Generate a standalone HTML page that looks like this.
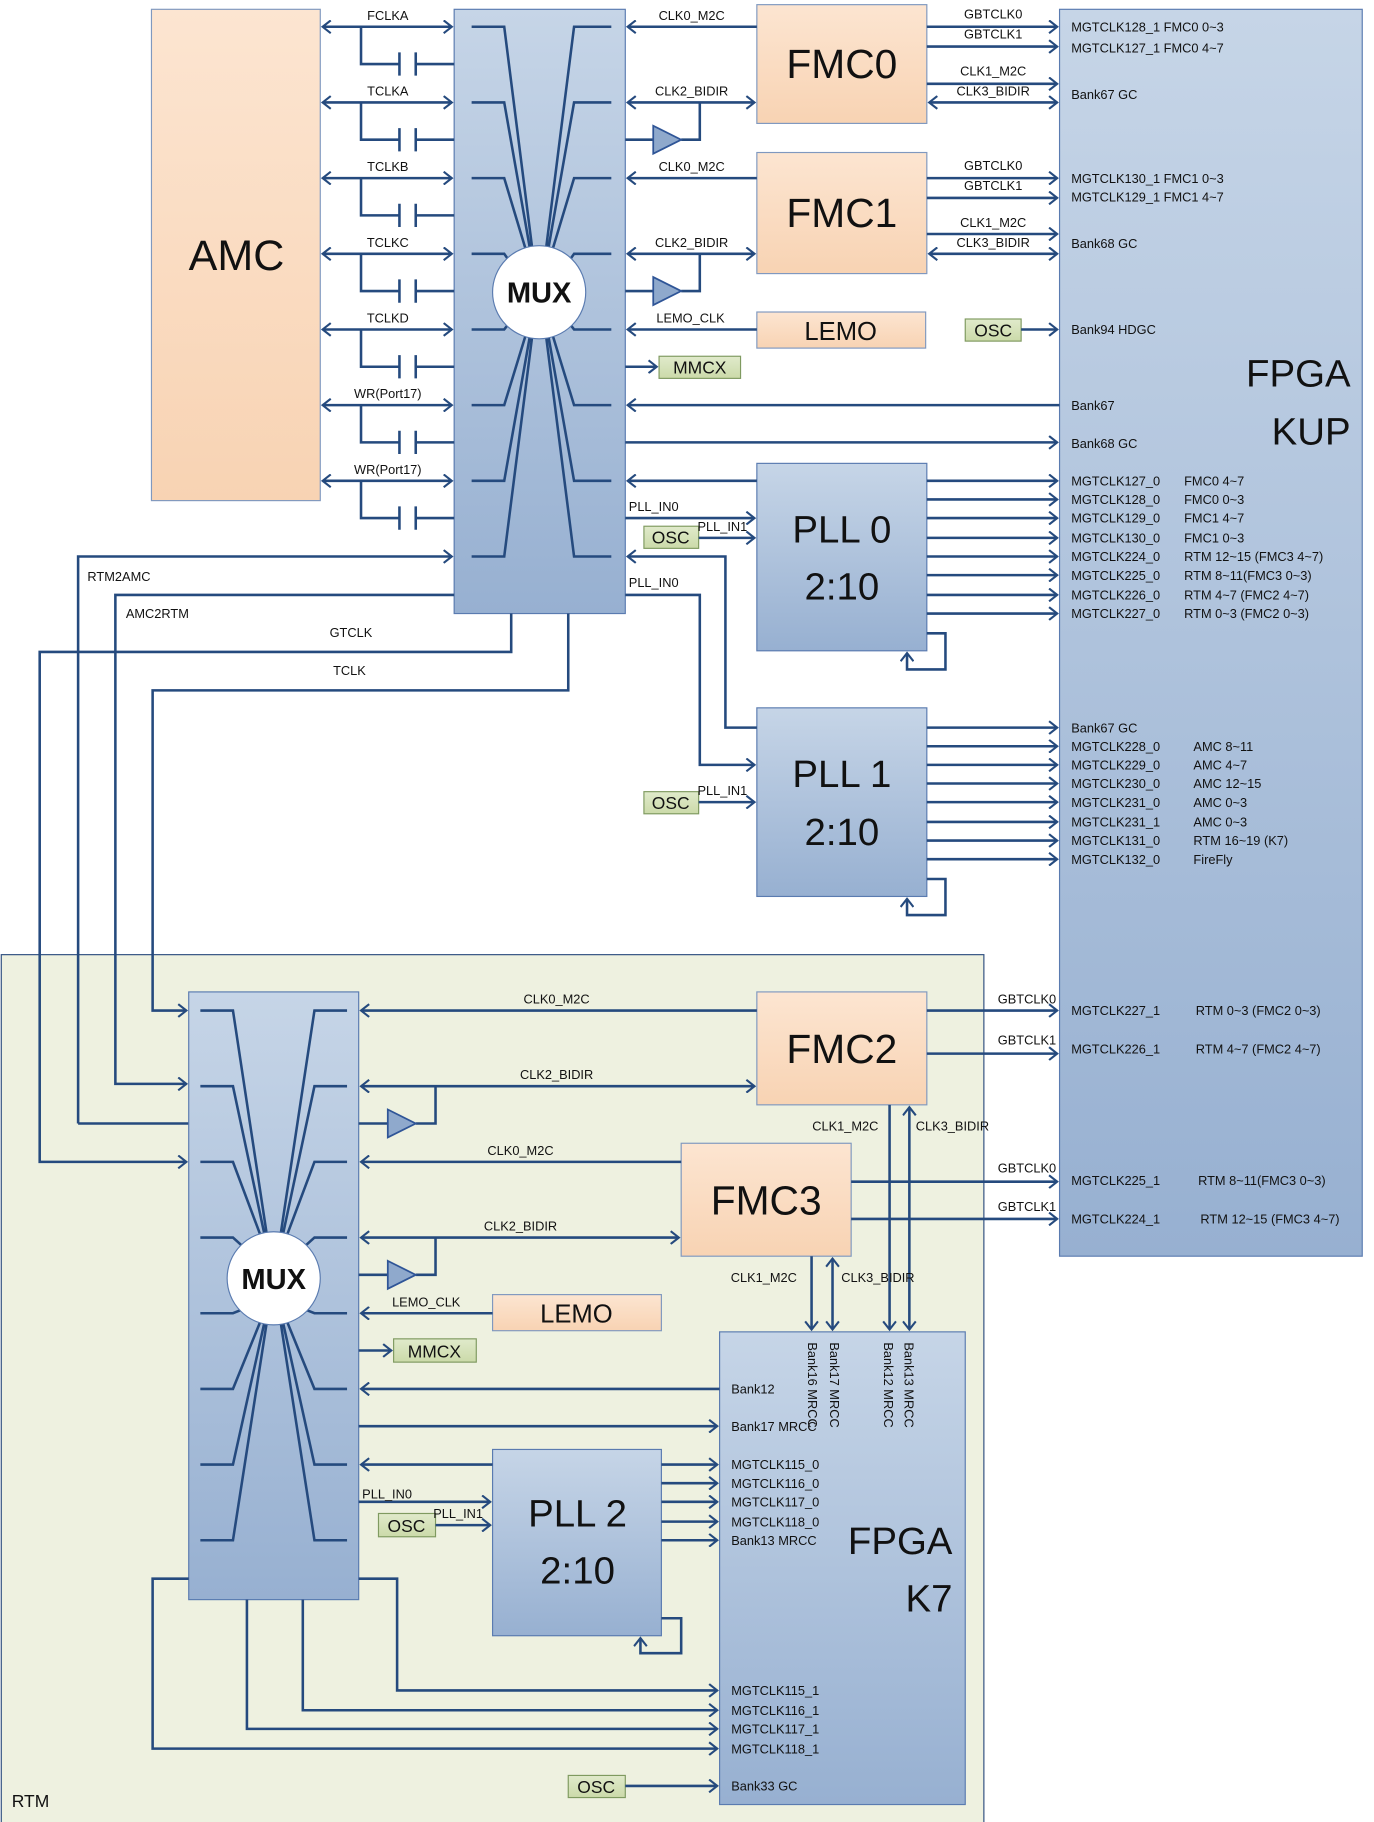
<!DOCTYPE html>
<html><head><meta charset="utf-8"><style>
html,body{margin:0;padding:0;background:#fff}
svg{display:block}
text{font-family:"Liberation Sans",sans-serif;fill:#111}
.s{font-size:11px}
.w{stroke:#254a7e;stroke-width:2.2;fill:none}
</style></head><body>
<svg width="1374" height="1822" viewBox="0 0 1180 1565" xmlns="http://www.w3.org/2000/svg">
<defs>
<marker id="a" markerWidth="10" markerHeight="12" refX="8" refY="6" orient="auto" markerUnits="userSpaceOnUse"><path d="M1,0.5 L8,6 L1,11.5" fill="none" stroke="#254a7e" stroke-width="1.8"/></marker>
<marker id="b" markerWidth="10" markerHeight="12" refX="8" refY="6" orient="auto-start-reverse" markerUnits="userSpaceOnUse"><path d="M1,0.5 L8,6 L1,11.5" fill="none" stroke="#254a7e" stroke-width="1.8"/></marker>
<linearGradient id="pe" x1="0" y1="0" x2="0" y2="1"><stop offset="0" stop-color="#fce5d1"/><stop offset="1" stop-color="#f8d3b3"/></linearGradient>
<linearGradient id="bl" x1="0" y1="0" x2="0" y2="1"><stop offset="0" stop-color="#c6d5e7"/><stop offset="1" stop-color="#97b0d1"/></linearGradient>
<linearGradient id="gr" x1="0" y1="0" x2="0" y2="1"><stop offset="0" stop-color="#e0eacb"/><stop offset="1" stop-color="#cbdaa9"/></linearGradient>
</defs>

<rect x="1" y="820" width="844" height="746" fill="#eef1e0" stroke="#2f4f80" stroke-width="1"/>
<text x="10" y="1552" style="font-size:15px">RTM</text>

<rect x="910" y="8" width="260" height="1071" fill="url(#bl)" stroke="#5a7bb0" stroke-width="1"/>
<text x="1160" y="332" text-anchor="end" style="font-size:33px">FPGA</text>
<text x="1160" y="382" text-anchor="end" style="font-size:33px">KUP</text>

<rect x="130" y="8" width="145" height="422" fill="url(#pe)" stroke="#7f98bf" stroke-width="1"/>
<text x="203" y="232" text-anchor="middle" style="font-size:37px">AMC</text>

<rect x="390" y="8" width="147" height="519" fill="url(#bl)" stroke="#5a7bb0" stroke-width="1"/>
<g class="w" stroke-width="2.5">
<path d="M405,23H433L457,213M405,88H433L455,213M405,153H433L452,216M405,218H433L440,228"/>
<path d="M405,283H433L440,274M405,348H433L452,286M405,413H433L455,289M405,478H433L457,289"/>
<path d="M525,23H493L469,213M525,88H493L471,213M525,153H493L474,216M525,218H493L486,228"/>
<path d="M525,283H493L486,274M525,348H493L474,286M525,413H493L471,289M525,478H493L469,289"/>
</g>
<circle cx="463" cy="251" r="40" fill="#fff" stroke="#5a7bb0"/>
<text x="463" y="260" text-anchor="middle" style="font-size:25px;font-weight:bold">MUX</text>

<g class="w">
<path d="M277,23H388" marker-start="url(#b)" marker-end="url(#a)"/>
<path d="M277,88H388" marker-start="url(#b)" marker-end="url(#a)"/>
<path d="M277,153H388" marker-start="url(#b)" marker-end="url(#a)"/>
<path d="M277,218H388" marker-start="url(#b)" marker-end="url(#a)"/>
<path d="M277,283H388" marker-start="url(#b)" marker-end="url(#a)"/>
<path d="M277,348H388" marker-start="url(#b)" marker-end="url(#a)"/>
<path d="M277,413H388" marker-start="url(#b)" marker-end="url(#a)"/>
<path d="M310,23V55H343M343,45V65M357,45V65M357,55H390"/>
<path d="M310,88V120H343M343,110V130M357,110V130M357,120H390"/>
<path d="M310,153V185H343M343,175V195M357,175V195M357,185H390"/>
<path d="M310,218V250H343M343,240V260M357,240V260M357,250H390"/>
<path d="M310,283V315H343M343,305V325M357,305V325M357,315H390"/>
<path d="M310,348V380H343M343,370V390M357,370V390M357,380H390"/>
<path d="M310,413V445H343M343,435V455M357,435V455M357,445H390"/>
</g>
<g class="s" text-anchor="middle">
<text x="333" y="17">FCLKA</text><text x="333" y="82">TCLKA</text><text x="333" y="147">TCLKB</text>
<text x="333" y="212">TCLKC</text><text x="333" y="277">TCLKD</text><text x="333" y="342">WR(Port17)</text><text x="333" y="407">WR(Port17)</text>
</g>

<g class="w">
<path d="M67,965V478H388" marker-end="url(#a)"/>
<path d="M390,511H99V931H160" marker-end="url(#a)"/>
<path d="M439,527V560H34V998H160" marker-end="url(#a)"/>
<path d="M488,527V593H131V868H160" marker-end="url(#a)"/>
<path d="M67,965H162"/>
</g>
<g class="s"><text x="75" y="499">RTM2AMC</text><text x="108" y="531">AMC2RTM</text>
<text x="283" y="547">GTCLK</text><text x="286" y="580">TCLK</text></g>

<rect x="650" y="4" width="146" height="102" fill="url(#pe)" stroke="#7f98bf"/>
<text x="723" y="67" text-anchor="middle" style="font-size:35px">FMC0</text>
<rect x="650" y="131" width="146" height="104" fill="url(#pe)" stroke="#7f98bf"/>
<text x="723" y="195" text-anchor="middle" style="font-size:35px">FMC1</text>
<rect x="650" y="268" width="145" height="31" fill="url(#pe)" stroke="#7f98bf"/>
<text x="722" y="292" text-anchor="middle" style="font-size:22px">LEMO</text>
<rect x="566" y="306" width="70" height="19" fill="url(#gr)" stroke="#7f9a60"/>
<text x="601" y="321" text-anchor="middle" style="font-size:15px">MMCX</text>
<rect x="829" y="274" width="48" height="19" fill="url(#gr)" stroke="#7f9a60"/>
<text x="853" y="289" text-anchor="middle" style="font-size:15px">OSC</text>

<g class="w">
<path d="M650,23H539" marker-end="url(#a)"/>
<path d="M539,88H648" marker-start="url(#b)" marker-end="url(#a)"/>
<path d="M601,88V120H585M537,120H561"/>
<path d="M650,153H539" marker-end="url(#a)"/>
<path d="M539,218H648" marker-start="url(#b)" marker-end="url(#a)"/>
<path d="M601,218V250H585M537,250H561"/>
<path d="M650,283H539" marker-end="url(#a)"/>
<path d="M537,315H564" marker-end="url(#a)"/>
<path d="M910,348H539" marker-end="url(#a)"/>
<path d="M537,380H908" marker-end="url(#a)"/>
<path d="M796,23H908" marker-end="url(#a)"/><path d="M796,40H908" marker-end="url(#a)"/>
<path d="M796,72H908" marker-end="url(#a)"/><path d="M798,88H908" marker-start="url(#b)" marker-end="url(#a)"/>
<path d="M796,153H908" marker-end="url(#a)"/><path d="M796,170H908" marker-end="url(#a)"/>
<path d="M796,201H908" marker-end="url(#a)"/><path d="M798,218H908" marker-start="url(#b)" marker-end="url(#a)"/>
<path d="M877,283H908" marker-end="url(#a)"/>
</g>
<path d="M561,108L585,120L561,132Z" fill="#8fa9cc" stroke="#2f5597" stroke-width="1.5"/>
<path d="M561,238L585,250L561,262Z" fill="#8fa9cc" stroke="#2f5597" stroke-width="1.5"/>
<g class="s" text-anchor="middle">
<text x="594" y="17">CLK0_M2C</text><text x="594" y="82">CLK2_BIDIR</text>
<text x="594" y="147">CLK0_M2C</text><text x="594" y="212">CLK2_BIDIR</text>
<text x="593" y="277">LEMO_CLK</text>
<text x="853" y="16">GBTCLK0</text><text x="853" y="33">GBTCLK1</text><text x="853" y="65">CLK1_M2C</text><text x="853" y="82">CLK3_BIDIR</text>
<text x="853" y="146">GBTCLK0</text><text x="853" y="163">GBTCLK1</text><text x="853" y="195">CLK1_M2C</text><text x="853" y="212">CLK3_BIDIR</text>
</g>
<g class="s">
<text x="920" y="27">MGTCLK128_1  FMC0 0~3</text><text x="920" y="45">MGTCLK127_1  FMC0 4~7</text><text x="920" y="85">Bank67 GC</text>
<text x="920" y="157">MGTCLK130_1  FMC1 0~3</text><text x="920" y="173">MGTCLK129_1  FMC1 4~7</text><text x="920" y="213">Bank68 GC</text>
<text x="920" y="287">Bank94 HDGC</text><text x="920" y="352">Bank67</text><text x="920" y="385">Bank68 GC</text>
</g>

<rect x="650" y="398" width="146" height="161" fill="url(#bl)" stroke="#5a7bb0"/>
<text x="723" y="466" text-anchor="middle" style="font-size:33px">PLL 0</text>
<text x="723" y="515" text-anchor="middle" style="font-size:33px">2:10</text>
<rect x="650" y="608" width="146" height="162" fill="url(#bl)" stroke="#5a7bb0"/>
<text x="723" y="676" text-anchor="middle" style="font-size:33px">PLL 1</text>
<text x="723" y="726" text-anchor="middle" style="font-size:33px">2:10</text>
<rect x="553" y="452" width="47" height="19" fill="url(#gr)" stroke="#7f9a60"/>
<text x="576" y="467" text-anchor="middle" style="font-size:15px">OSC</text>
<rect x="553" y="680" width="47" height="19" fill="url(#gr)" stroke="#7f9a60"/>
<text x="576" y="695" text-anchor="middle" style="font-size:15px">OSC</text>
<g class="w">
<path d="M650,413H539" marker-end="url(#a)"/>
<path d="M537,445H648" marker-end="url(#a)"/>
<path d="M600,462H648" marker-end="url(#a)"/>
<path d="M650,625H623V478H539" marker-end="url(#a)"/>
<path d="M537,511H601V657H648" marker-end="url(#a)"/>
<path d="M600,689H648" marker-end="url(#a)"/>
<path d="M796,544H812V575H779V561" marker-end="url(#a)"/>
<path d="M796,755H812V786H779V772" marker-end="url(#a)"/>
<path d="M796,413H908" marker-end="url(#a)"/><path d="M796,429H908" marker-end="url(#a)"/>
<path d="M796,445H908" marker-end="url(#a)"/><path d="M796,462H908" marker-end="url(#a)"/>
<path d="M796,478H908" marker-end="url(#a)"/><path d="M796,494H908" marker-end="url(#a)"/>
<path d="M796,511H908" marker-end="url(#a)"/><path d="M796,527H908" marker-end="url(#a)"/>
<path d="M796,625H908" marker-end="url(#a)"/><path d="M796,641H908" marker-end="url(#a)"/>
<path d="M796,657H908" marker-end="url(#a)"/><path d="M796,673H908" marker-end="url(#a)"/>
<path d="M796,689H908" marker-end="url(#a)"/><path d="M796,706H908" marker-end="url(#a)"/>
<path d="M796,722H908" marker-end="url(#a)"/><path d="M796,738H908" marker-end="url(#a)"/>
</g>
<g class="s">
<text x="540" y="439">PLL_IN0</text><text x="599" y="456">PLL_IN1</text>
<text x="540" y="504">PLL_IN0</text><text x="599" y="683">PLL_IN1</text>
<text x="920" y="417">MGTCLK127_0</text><text x="1017" y="417">FMC0 4~7</text>
<text x="920" y="433">MGTCLK128_0</text><text x="1017" y="433">FMC0 0~3</text>
<text x="920" y="449">MGTCLK129_0</text><text x="1017" y="449">FMC1 4~7</text>
<text x="920" y="466">MGTCLK130_0</text><text x="1017" y="466">FMC1 0~3</text>
<text x="920" y="482">MGTCLK224_0</text><text x="1017" y="482">RTM 12~15 (FMC3 4~7)</text>
<text x="920" y="498">MGTCLK225_0</text><text x="1017" y="498">RTM 8~11(FMC3 0~3)</text>
<text x="920" y="515">MGTCLK226_0</text><text x="1017" y="515">RTM 4~7 (FMC2 4~7)</text>
<text x="920" y="531">MGTCLK227_0</text><text x="1017" y="531">RTM 0~3 (FMC2 0~3)</text>
<text x="920" y="629">Bank67 GC</text>
<text x="920" y="645">MGTCLK228_0</text><text x="1025" y="645">AMC 8~11</text>
<text x="920" y="661">MGTCLK229_0</text><text x="1025" y="661">AMC 4~7</text>
<text x="920" y="677">MGTCLK230_0</text><text x="1025" y="677">AMC 12~15</text>
<text x="920" y="693">MGTCLK231_0</text><text x="1025" y="693">AMC 0~3</text>
<text x="920" y="710">MGTCLK231_1</text><text x="1025" y="710">AMC 0~3</text>
<text x="920" y="726">MGTCLK131_0</text><text x="1025" y="726">RTM 16~19 (K7)</text>
<text x="920" y="742">MGTCLK132_0</text><text x="1025" y="742">FireFly</text>
</g>

<rect x="162" y="852" width="146" height="522" fill="url(#bl)" stroke="#5a7bb0"/>
<g class="w" stroke-width="2.5">
<path d="M172,868H200L229,1060M172,933H200L227,1060M172,998H200L224,1062M172,1063H200L210,1072"/>
<path d="M172,1128H200L210,1124M172,1193H200L224,1134M172,1258H200L227,1136M172,1323H200L229,1136"/>
<path d="M298,868H270L241,1060M298,933H270L243,1060M298,998H270L246,1062M298,1063H270L260,1072"/>
<path d="M298,1128H270L260,1124M298,1193H270L246,1134M298,1258H270L243,1136M298,1323H270L241,1136"/>
</g>
<circle cx="235" cy="1098" r="40" fill="#fff" stroke="#5a7bb0"/>
<text x="235" y="1107" text-anchor="middle" style="font-size:25px;font-weight:bold">MUX</text>

<rect x="650" y="852" width="146" height="97" fill="url(#pe)" stroke="#7f98bf"/>
<text x="723" y="913" text-anchor="middle" style="font-size:35px">FMC2</text>
<rect x="585" y="982" width="146" height="97" fill="url(#pe)" stroke="#7f98bf"/>
<text x="658" y="1043" text-anchor="middle" style="font-size:35px">FMC3</text>
<rect x="423" y="1112" width="145" height="31" fill="url(#pe)" stroke="#7f98bf"/>
<text x="495" y="1136" text-anchor="middle" style="font-size:22px">LEMO</text>
<rect x="338" y="1150" width="71" height="20" fill="url(#gr)" stroke="#7f9a60"/>
<text x="373" y="1166" text-anchor="middle" style="font-size:15px">MMCX</text>

<rect x="618" y="1144" width="211" height="406" fill="url(#bl)" stroke="#5a7bb0"/>
<text x="818" y="1335" text-anchor="end" style="font-size:33px">FPGA</text>
<text x="818" y="1384" text-anchor="end" style="font-size:33px">K7</text>

<rect x="423" y="1245" width="145" height="160" fill="url(#bl)" stroke="#5a7bb0"/>
<text x="496" y="1311" text-anchor="middle" style="font-size:33px">PLL 2</text>
<text x="496" y="1360" text-anchor="middle" style="font-size:33px">2:10</text>
<rect x="325" y="1300" width="49" height="20" fill="url(#gr)" stroke="#7f9a60"/>
<text x="349" y="1316" text-anchor="middle" style="font-size:15px">OSC</text>
<rect x="488" y="1525" width="49" height="19" fill="url(#gr)" stroke="#7f9a60"/>
<text x="512" y="1540" text-anchor="middle" style="font-size:15px">OSC</text>

<g class="w">
<path d="M650,868H310" marker-end="url(#a)"/>
<path d="M310,933H648" marker-start="url(#b)" marker-end="url(#a)"/>
<path d="M374,933V965H357M308,965H333"/>
<path d="M585,998H310" marker-end="url(#a)"/>
<path d="M310,1063H583" marker-start="url(#b)" marker-end="url(#a)"/>
<path d="M374,1063V1095H357M308,1095H333"/>
<path d="M423,1128H310" marker-end="url(#a)"/>
<path d="M308,1160H336" marker-end="url(#a)"/>
<path d="M618,1193H310" marker-end="url(#a)"/>
<path d="M308,1225H616" marker-end="url(#a)"/>
<path d="M423,1258H310" marker-end="url(#a)"/>
<path d="M308,1290H421" marker-end="url(#a)"/>
<path d="M374,1310H421" marker-end="url(#a)"/>
<path d="M568,1390H585V1420H550V1407" marker-end="url(#a)"/>
<path d="M568,1258H616" marker-end="url(#a)"/><path d="M568,1274H616" marker-end="url(#a)"/>
<path d="M568,1290H616" marker-end="url(#a)"/><path d="M568,1307H616" marker-end="url(#a)"/>
<path d="M568,1323H616" marker-end="url(#a)"/>
<path d="M308,1356H341V1452H616" marker-end="url(#a)"/>
<path d="M260,1374V1469H616" marker-end="url(#a)"/>
<path d="M212,1374V1485H616" marker-end="url(#a)"/>
<path d="M162,1356H131V1502H616" marker-end="url(#a)"/>
<path d="M537,1534H616" marker-end="url(#a)"/>
<path d="M796,868H908" marker-end="url(#a)"/>
<path d="M796,905H908" marker-end="url(#a)"/>
<path d="M731,1015H908" marker-end="url(#a)"/>
<path d="M731,1047H908" marker-end="url(#a)"/>
<path d="M764,949V1142" marker-end="url(#a)"/>
<path d="M781,951V1142" marker-start="url(#b)" marker-end="url(#a)"/>
<path d="M697,1079V1142" marker-end="url(#a)"/>
<path d="M715,1081V1142" marker-start="url(#b)" marker-end="url(#a)"/>
</g>
<path d="M333,953L357,965L333,977Z" fill="#8fa9cc" stroke="#2f5597" stroke-width="1.5"/>
<path d="M333,1083L357,1095L333,1107Z" fill="#8fa9cc" stroke="#2f5597" stroke-width="1.5"/>

<g class="s" text-anchor="middle">
<text x="478" y="862">CLK0_M2C</text><text x="478" y="927">CLK2_BIDIR</text>
<text x="447" y="992">CLK0_M2C</text><text x="447" y="1057">CLK2_BIDIR</text>
<text x="366" y="1122">LEMO_CLK</text>
<text x="726" y="971">CLK1_M2C</text><text x="818" y="971">CLK3_BIDIR</text>
<text x="656" y="1101">CLK1_M2C</text><text x="754" y="1101">CLK3_BIDIR</text>
<text x="882" y="862">GBTCLK0</text><text x="882" y="897">GBTCLK1</text>
<text x="882" y="1007">GBTCLK0</text><text x="882" y="1040">GBTCLK1</text>
</g>
<g class="s">
<text x="311" y="1287">PLL_IN0</text><text x="372" y="1304">PLL_IN1</text>
<text x="920" y="872">MGTCLK227_1</text><text x="1027" y="872">RTM 0~3 (FMC2 0~3)</text>
<text x="920" y="905">MGTCLK226_1</text><text x="1027" y="905">RTM 4~7 (FMC2 4~7)</text>
<text x="920" y="1018">MGTCLK225_1</text><text x="1029" y="1018">RTM 8~11(FMC3 0~3)</text>
<text x="920" y="1051">MGTCLK224_1</text><text x="1031" y="1051">RTM 12~15 (FMC3 4~7)</text>
<text x="628" y="1197">Bank12</text><text x="628" y="1229">Bank17 MRCC</text>
<text x="628" y="1262">MGTCLK115_0</text><text x="628" y="1278">MGTCLK116_0</text>
<text x="628" y="1294">MGTCLK117_0</text><text x="628" y="1311">MGTCLK118_0</text>
<text x="628" y="1327">Bank13 MRCC</text>
<text x="628" y="1456">MGTCLK115_1</text><text x="628" y="1473">MGTCLK116_1</text>
<text x="628" y="1489">MGTCLK117_1</text><text x="628" y="1506">MGTCLK118_1</text>
<text x="628" y="1538">Bank33 GC</text>
<text transform="translate(694,1153) rotate(90)">Bank16 MRCC</text>
<text transform="translate(713,1153) rotate(90)">Bank17 MRCC</text>
<text transform="translate(759,1153) rotate(90)">Bank12 MRCC</text>
<text transform="translate(777,1153) rotate(90)">Bank13 MRCC</text>
</g>
</svg>
</body></html>
